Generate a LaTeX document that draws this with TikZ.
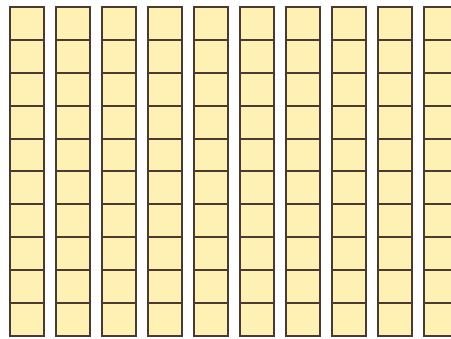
\documentclass[tikz,border=0pt]{standalone}
\usepackage{tikz}
\definecolor{cuadAmarillo}{HTML}{FFF1B4}
\definecolor{cuadBorde}{HTML}{4A3A32}

\begin{document}
\begin{tikzpicture}[x=1pt,y=-1pt]
      \useasboundingbox (0,0) rectangle (451,339);
      \clip (0,0) rectangle (451,339);
      \foreach \c in {0,...,9}
        \foreach \f in {0,...,9}
          \fill[cuadAmarillo, draw=cuadBorde, line width=2pt]
            ({10+46*\c},{7+32.9*\f}) rectangle ++(34,32.9);
    \end{tikzpicture}
\end{document}
